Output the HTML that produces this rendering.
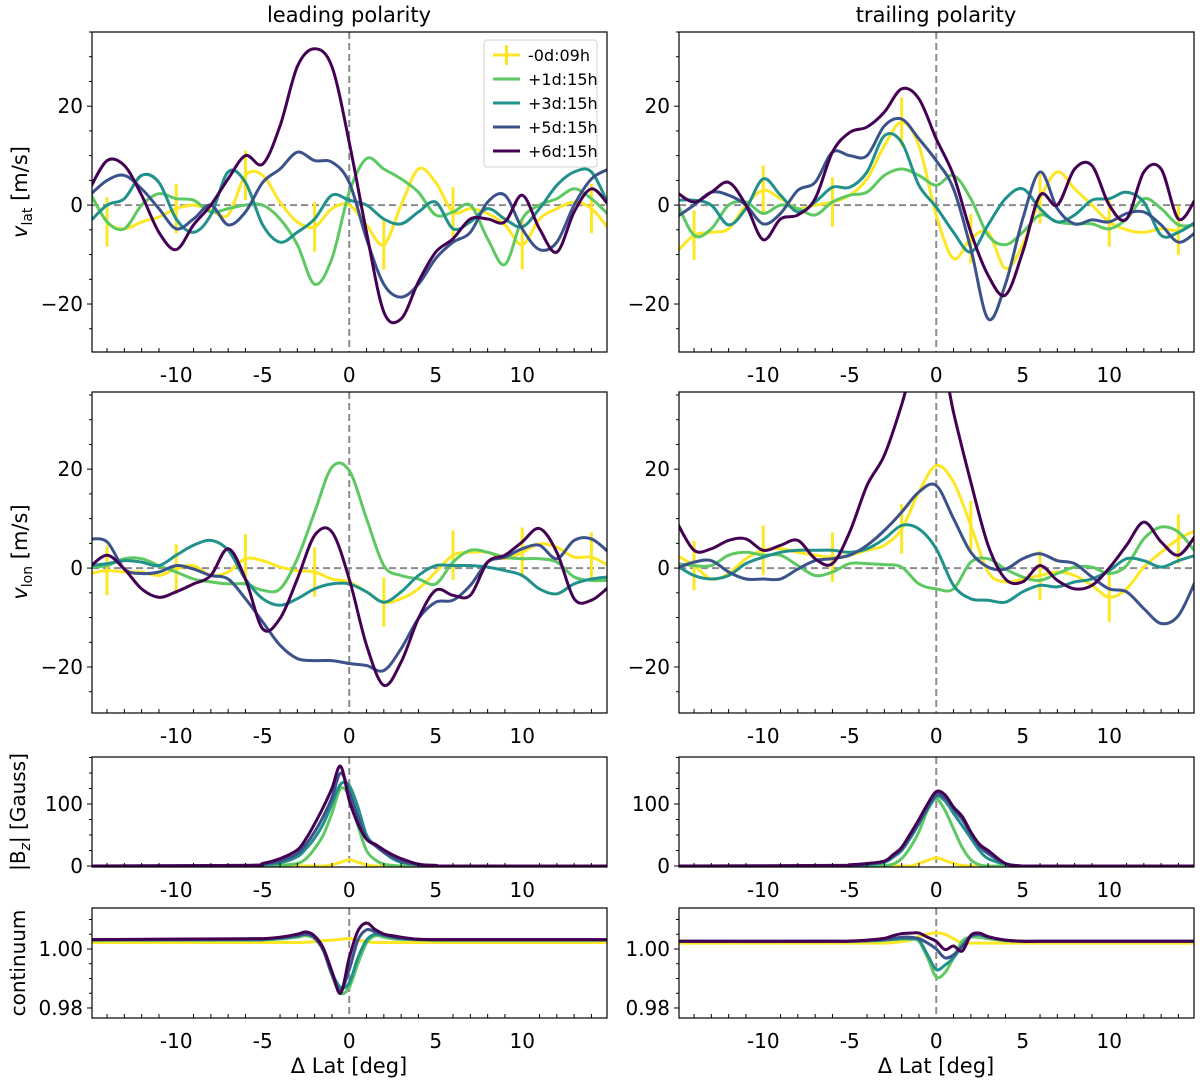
<!DOCTYPE html>
<html><head><meta charset="utf-8"><style>
html,body{margin:0;padding:0;background:#fff;}
svg{display:block;font-family:"DejaVu Sans","Liberation Sans",sans-serif;}
</style></head><body>
<svg id="fig" width="1200" height="1080" viewBox="0 0 1200 1080" xmlns="http://www.w3.org/2000/svg"></svg>
<script>
const degs = [-15,-14,-13,-12,-11,-10,-9,-8,-7,-6,-5,-4,-3,-2,-1,0,1,2,3,4,5,6,7,8,9,10,11,12,13,14,15];
const seriesNames = ["-0d:09h","+1d:15h","+3d:15h","+5d:15h","+6d:15h"];
const errDegs = [-14,-10,-6,-2,2,6,10,14];

const vlatL_y = [2.6,-3.4,-4.8,-3.4,-2.4,-0.7,0,-1,-2,6,6,0.6,-3.4,-4.4,-0.7,0,-4,-8,0,7.3,4.6,-1.4,-0.7,-1.7,-4,-8,-2.8,-0.7,0.6,-0.7,-4.8];
const vlatL_g = [2.6,-3.4,-4.8,0,2.3,1.3,1,-1.4,-0.7,0,0,-2.8,-8,-16,-10.8,2.6,9.4,7.3,5.3,2.6,-2,-1.4,0,-6.8,-12,-2.8,0,1.3,3.3,1.3,-2];
const vlatL_t = [-3.4,0,1.3,6,4.6,-2.8,-5.5,-2,6.7,4.6,-4,-7.5,-5.5,-2.8,2,1,0,-2.8,-3.8,-1.4,0.6,-4.8,-3.4,-0.7,-2.8,-4.4,-0.7,4,6.7,6.7,0];
const vlatL_b = [2,5,6,3.3,-0.7,-4.8,-2.8,0,-4,-1.4,4.6,7.3,10.7,9,8.7,4.6,-6.8,-16,-18.6,-16,-10.8,-7.5,-5.5,0.6,2,-4.8,-9,-7.5,0,5.3,7.3];
const vlatL_p = [3.3,9,8,2,-5.5,-9,-4,0,5.3,10,8.3,16,28,31.6,28,12.7,-5.5,-21.6,-23,-15.5,-9.5,-6.8,-2.8,-2.8,-3.4,2,-4.8,-9.5,-1.4,3.3,0];

const vlatR_y = [-9.5,-6.1,-5.5,-4.8,0,3,1.3,-0.7,0,0.6,2,5.3,12,16.8,12,-2,-10.8,-6.8,-5.5,-12.8,-8,1.3,6.7,3.3,0,-3.4,-5,-5.5,-4.8,-5.1,-3.8];
const vlatR_g = [0.6,-6.1,-4.8,0,0.6,-1.7,0,-0.7,-2,0.6,2,2.6,6,7.3,6,4,6,1.3,-6.1,-8,-5.5,-2,-3.4,-3.8,-3.8,-4.8,-2.8,1.3,-0.7,-4,-4];
const vlatR_t = [1,1,0,-4,-0.7,5.3,2,-1.4,0.6,3.6,3.6,6.7,14,12.7,4,-0.4,-5.5,-9.5,-4,1.3,3.3,-0.7,-3.4,-2,1,1.3,2.6,0.6,-6.1,-5.5,-3.4];
const vlatR_b = [-2.4,0,2.6,2,0,-3.8,-1.7,3,4.6,10.7,10,10,16,17.4,13.4,9,3.3,-8.8,-23,-16,-2.8,6.7,-0.7,-3.8,-3,-3.4,-1.7,-1.4,-4,-7.5,-5.5];
const vlatR_p = [2.6,0.6,2.6,4.6,0,-7,-2.8,-2,1.3,10.7,14.7,15.8,18.8,23.5,21.5,13.4,6,-5.5,-14.2,-18.2,-9.5,2,0,7.3,8,0,-2.8,6.7,7.3,-2.8,1.3];

const vlonL_y = [-1.1,-0.5,-0.8,-0.8,-1.5,-0.2,0.5,-1.5,-0.8,1.9,1.5,0.2,-0.5,-0.8,-2.2,-2.8,-4.8,-6.9,-6.2,-4.2,-0.8,2.6,3.2,3.2,1.9,3.2,4.9,4.2,2.2,2.2,0.5];
const vlonL_g = [0.2,0.5,1.9,1.9,0.5,-0.8,-2.2,-2.8,-3.2,-3.2,-4.5,-4.2,1.9,11.3,20.4,19.7,10,0.5,-1.5,-2.2,-3.2,1.2,3.6,3.2,2.2,1.9,1.9,1.2,-1.8,-2.5,-2.5];
const vlonL_t = [0.5,0.9,1.5,1.2,0.5,2.6,4.6,5.6,3.6,-2.2,-6.2,-7.5,-6.2,-4.2,-3.2,-3.2,-4.8,-6.9,-4.8,-1.5,0.5,0.5,0.5,0.2,-0.5,-1.5,-4.2,-5.2,-3.2,-2.2,-1.8];
const vlonL_b = [5.9,5.3,-0.2,-1.1,-0.8,0.5,-0.2,-1.5,-2.2,-6.2,-10.9,-15.6,-18.3,-18.7,-18.7,-19.3,-19.7,-20.7,-16.3,-10.2,-6.9,-6.5,-3.5,1.2,2.2,3.9,4.6,1.9,5.6,5.9,3.2];
const vlonL_p = [0.2,2.6,-0.2,-4.2,-5.9,-4.8,-3.2,-1.5,3.9,-2.2,-12.3,-10.2,-2.2,6.6,7.3,-2.2,-15.6,-23.7,-19,-10.2,-4.5,-5.5,-5.5,1.2,2.6,5.3,8,3.2,-6.2,-6.5,-3.8];

const vlonR_y = [2.6,0.5,-2.2,-1.1,1.9,3.6,3.9,3.2,2.6,2.2,2.6,3.6,4.6,7.9,15.4,20.7,17.4,8.6,-0.8,-2.8,-2.2,-1.5,-0.8,-1.5,-3.5,-5.9,-4.2,0.2,3.2,5.9,7.6];
const vlonR_g = [0.9,0.5,0.5,2.6,3.2,2.6,2.6,0.5,-1.5,-0.8,0.9,0.9,0.7,0.2,-3.2,-4.2,-4.2,1.2,1.9,-0.2,-1.8,-2.5,-1.1,0.2,0.2,-1.1,0.5,5.9,8.3,7.3,3.2];
const vlonR_t = [0.5,-1.5,-2.2,-1.5,0.9,2.2,3.2,3.6,3.6,3.6,3.2,3.9,5.9,8.6,7.9,3.9,-3.5,-6.2,-6.5,-6.9,-4.8,-3.5,-3.8,-2.8,-2.2,-0.5,1.9,1.5,0.2,1.5,2.6];
const vlonR_b = [0,1.2,1.5,-0.8,-2.2,-2.2,-2.2,-0.2,1.5,1.9,2.6,4.6,7.6,11.3,15.4,16.7,10,3.2,0.2,-0.2,1.9,2.9,1.5,0.9,-1.8,-4.2,-4.8,-8.2,-11.2,-9.6,-2.5];
const vlonR_p = [9.3,3.6,3.9,5.6,5.9,3.6,4.6,5.6,1.9,0.9,7.3,16.7,22.8,33,45,48,31.5,17.4,4.6,-2.2,-2.8,0.5,-2.5,-4.2,-3.5,0,4.6,9.3,5.3,2.6,6.6];

const degsB = [-15,-6,-5,-4,-3,-2.5,-2,-1.5,-1,-0.5,0,0.5,1,1.5,2,2.5,3,4,5,6,15];
const bzL_y = [0,0,0,0,0,0,0,0,2,6,10,6,2,0,0,0,0,0,0,0,0];
const bzL_g = [0,0,0,1,4,12,28,50,85,125,112,65,25,10,3,1,0,0,0,0,0];
const bzL_t = [0,0,2,5,15,28,45,68,100,132,130,95,50,33,22,12,6,2,0,0,0];
const bzL_b = [0,1,3,8,20,35,55,80,110,150,120,80,45,33,22,14,8,2,1,0,0];
const bzL_p = [0,1,4,12,26,44,68,95,125,161,106,68,43,35,26,18,12,3,1,0,0];
const bzR_y = [0,0,0,0,0,0,0,0,4,9,13,9,4,1,0,0,0,0,0,0,0];
const bzR_g = [0,0,0,0,1,3,12,30,55,90,108,90,60,30,10,2,0,0,0,0,0];
const bzR_t = [0,0,1,2,6,14,25,45,68,92,112,105,85,65,45,25,12,3,0,0,0];
const bzR_b = [0,0,1,3,7,16,27,48,70,95,115,110,92,75,52,32,20,4,0,0,0];
const bzR_p = [0,1,2,4,8,18,30,52,75,100,120,115,95,80,55,35,25,4,0,0,0];

const coL_y = [1.0022,1.0022,1.0022,1.0022,1.0022,1.0023,1.0025,1.0028,1.003,1.0033,1.0035,1.003,1.0025,1.0022,1.0022,1.0022,1.0022,1.0022,1.0022,1.0022,1.0022];
const coL_g = [1.003,1.003,1.0031,1.0034,1.004,1.0045,1.0035,0.9995,0.991,0.985,0.987,0.995,1.002,1.0045,1.004,1.0035,1.0033,1.0031,1.003,1.003,1.003];
const coL_t = [1.003,1.0031,1.0032,1.0036,1.0044,1.005,1.004,1.0,0.992,0.987,0.9885,0.997,1.003,1.005,1.0045,1.004,1.0035,1.0032,1.003,1.003,1.003];
const coL_b = [1.0032,1.0033,1.0034,1.0038,1.0045,1.005,1.0038,0.9995,0.9915,0.986,0.993,1.003,1.0065,1.0058,1.0048,1.004,1.0036,1.0033,1.0032,1.0032,1.0032];
const coL_p = [1.0032,1.0035,1.0035,1.004,1.005,1.0058,1.0044,1.0003,0.9924,0.985,0.997,1.0061,1.0088,1.0066,1.0051,1.0045,1.004,1.0033,1.0032,1.0032,1.0032];
const coR_y = [1.002,1.002,1.002,1.002,1.002,1.0022,1.0025,1.003,1.0042,1.005,1.0055,1.005,1.0035,1.002,1.002,1.002,1.002,1.002,1.002,1.002,1.002];
const coR_g = [1.0026,1.0026,1.0026,1.0027,1.003,1.0032,1.0034,1.0034,1.0026,0.997,0.9905,0.992,0.997,1.0026,1.004,1.004,1.0035,1.0028,1.0026,1.0026,1.0026];
const coR_t = [1.0026,1.0026,1.0026,1.0028,1.003,1.0033,1.0035,1.0035,1.003,0.998,0.993,0.9945,0.997,1.001,1.0042,1.0048,1.004,1.003,1.0026,1.0026,1.0026];
const coR_b = [1.0026,1.0026,1.0026,1.0028,1.0032,1.0036,1.004,1.004,1.0035,1.002,1.0,0.997,0.998,1.001,1.0045,1.005,1.004,1.003,1.0026,1.0026,1.0026];
const coR_p = [1.0026,1.0026,1.0027,1.003,1.0036,1.0045,1.0052,1.0054,1.0054,1.004,1.0026,0.9998,1.001,0.9993,1.0046,1.0054,1.0042,1.003,1.0026,1.0026,1.0026];

const xTicks = [-10,-5,0,5,10];
const xTickLabels = ["-10","-5","0","5","10"];

const COLORS = ["#fde725","#5ec962","#21918c","#3b528b","#440154"];
const NS = "http://www.w3.org/2000/svg";
const svg = document.getElementById("fig");
function mk(tag, attrs, parent){
  const e = document.createElementNS(NS, tag);
  for (const k in attrs) e.setAttribute(k, attrs[k]);
  (parent||svg).appendChild(e);
  return e;
}
function smoothPath(pts){
  let d = "M" + pts[0][0].toFixed(1) + "," + pts[0][1].toFixed(1);
  for (let i=0;i<pts.length-1;i++){
    const p0=pts[Math.max(0,i-1)], p1=pts[i], p2=pts[i+1], p3=pts[Math.min(pts.length-1,i+2)];
    const c1x=p1[0]+(p2[0]-p0[0])/6, c1y=p1[1]+(p2[1]-p0[1])/6;
    const c2x=p2[0]-(p3[0]-p1[0])/6, c2y=p2[1]-(p3[1]-p1[1])/6;
    d += " C"+c1x.toFixed(1)+","+c1y.toFixed(1)+" "+c2x.toFixed(1)+","+c2y.toFixed(1)+" "+p2[0].toFixed(1)+","+p2[1].toFixed(1);
  }
  return d;
}
let clipId = 0;
function panel(o){
  const {x0,x1,y0,y1,ymin,ymax,xs,series,yTicks,yTickLabels,yMinor,hzero,err,name} = o;
  const xmin=-14.87, xmax=14.9;
  const X = v => x0 + (v - xmin)/(xmax - xmin)*(x1 - x0);
  const Y = v => y1 - (v - ymin)/(ymax - ymin)*(y1 - y0);
  const g = mk("g", {});
  
  
  const cid = "clip"+(clipId++);
  const cp = mk("clipPath", {id:cid}, g);
  mk("rect", {x:x0,y:y0,width:x1-x0,height:y1-y0}, cp);
  const plot = mk("g", {"clip-path":"url(#"+cid+")"}, g);
  if (hzero){
    const hl = mk("line", {x1:x0,x2:x1,y1:Y(0),y2:Y(0),stroke:"#8c8c8c","stroke-width":2,"stroke-dasharray":"7,4"}, plot);
    
    
  }
  const vl = mk("line", {x1:X(0),x2:X(0),y1:y0,y2:y1,stroke:"#8c8c8c","stroke-width":2,"stroke-dasharray":"7,4"}, plot);
  
  
  series.forEach((vals, si) => {
    const pts = vals.map((v,i)=>[X(xs[i]), Y(v)]);
    const p = mk("path", {d:smoothPath(pts), fill:"none", stroke:COLORS[si], "stroke-width":3, "stroke-linejoin":"round"}, plot);
    
    
    if (si===0 && err){
      errDegs.forEach(ed => {
        const idx = xs.indexOf(ed);
        const v = vals[idx];
        const eb = mk("line", {x1:X(ed),x2:X(ed),y1:Y(v+err),y2:Y(v-err),stroke:COLORS[0],"stroke-width":3}, plot);
        
        
      });
    }
  });
  const fr = mk("rect", {x:x0,y:y0,width:x1-x0,height:y1-y0,fill:"none",stroke:"#000","stroke-width":1.2}, g);
  
  
  for (let d=-14; d<=14; d++){
    const major = xTicks.indexOf(d) >= 0;
    if (major) continue;
    mk("line", {x1:X(d),x2:X(d),y1:y1,y2:y1-4,stroke:"#000","stroke-width":1}, g);
  }
  xTicks.forEach((t,i)=>{
    const tx = mk("text", {x:X(t), y:y1+30, "text-anchor":"middle", "font-size":20, fill:"#000"}, g);
    tx.textContent = xTickLabels[i];
    
    
  });
  yMinor.forEach(t=>{ if (yTicks.indexOf(t)<0) mk("line",{x1:x0-3,x2:x0,y1:Y(t),y2:Y(t),stroke:"#000","stroke-width":1}, g); });
  yTicks.forEach((t,i)=>{
    mk("line",{x1:x0-5,x2:x0,y1:Y(t),y2:Y(t),stroke:"#000","stroke-width":1}, g);
    const ty = mk("text", {x:x0-9, y:Y(t)+7, "text-anchor":"end", "font-size":20, fill:"#000"}, g);
    ty.textContent = yTickLabels[i];
    
    
  });
  return g;
}
function range(a,b,s){const r=[];for(let v=a;v<=b+1e-9;v+=s)r.push(+v.toFixed(4));return r;}
const vTicks=[-20,0,20], vLabels=["\u221220","0","20"], vMinor=range(-25,35,5);
const L={x0:92,x1:607}, R={x0:679,x1:1194};
panel({...L,y0:32,y1:352,ymin:-29.7,ymax:35,xs:degs,series:[vlatL_y,vlatL_g,vlatL_t,vlatL_b,vlatL_p],yTicks:vTicks,yTickLabels:vLabels,yMinor:vMinor,hzero:true,err:5,name:"vlat-leading-panel"});
panel({...R,y0:32,y1:352,ymin:-29.7,ymax:35,xs:degs,series:[vlatR_y,vlatR_g,vlatR_t,vlatR_b,vlatR_p],yTicks:vTicks,yTickLabels:vLabels,yMinor:vMinor,hzero:true,err:5,name:"vlat-trailing-panel"});
panel({...L,y0:392,y1:713,ymin:-29.3,ymax:35.6,xs:degs,series:[vlonL_y,vlonL_g,vlonL_t,vlonL_b,vlonL_p],yTicks:vTicks,yTickLabels:vLabels,yMinor:vMinor,hzero:true,err:5,name:"vlon-leading-panel"});
panel({...R,y0:392,y1:713,ymin:-29.3,ymax:35.6,xs:degs,series:[vlonR_y,vlonR_g,vlonR_t,vlonR_b,vlonR_p],yTicks:vTicks,yTickLabels:vLabels,yMinor:vMinor,hzero:true,err:5,name:"vlon-trailing-panel"});
panel({...L,y0:757,y1:867,ymin:-1.6,ymax:175.8,xs:degsB,series:[bzL_y,bzL_g,bzL_t,bzL_b,bzL_p],yTicks:[0,100],yTickLabels:["0","100"],yMinor:range(25,175,25),hzero:false,err:0,name:"bz-leading-panel"});
panel({...R,y0:757,y1:867,ymin:-1.6,ymax:175.8,xs:degsB,series:[bzR_y,bzR_g,bzR_t,bzR_b,bzR_p],yTicks:[0,100],yTickLabels:["0","100"],yMinor:range(25,175,25),hzero:false,err:0,name:"bz-trailing-panel"});
panel({...L,y0:908,y1:1018,ymin:0.9766,ymax:1.0139,xs:degsB,series:[coL_y,coL_g,coL_t,coL_b,coL_p],yTicks:[0.98,1.0],yTickLabels:["0.98","1.00"],yMinor:range(0.985,1.01,0.005),hzero:false,err:0,name:"continuum-leading-panel"});
panel({...R,y0:908,y1:1018,ymin:0.9766,ymax:1.0139,xs:degsB,series:[coR_y,coR_g,coR_t,coR_b,coR_p],yTicks:[0.98,1.0],yTickLabels:["0.98","1.00"],yMinor:range(0.985,1.01,0.005),hzero:false,err:0,name:"continuum-trailing-panel"});

const lg = mk("g", {});


mk("rect",{x:484,y:40,width:113,height:127,rx:3,fill:"#fff","fill-opacity":0.85,stroke:"#d0d0d0","stroke-width":1}, lg);
seriesNames.forEach((n,i)=>{
  const y = 55 + i*24;
  const e = mk("g",{}, lg);
  
  
  mk("line",{x1:493,x2:520,y1:y,y2:y,stroke:COLORS[i],"stroke-width":3}, e);
  if (i===0) mk("line",{x1:506.5,x2:506.5,y1:y-10,y2:y+10,stroke:COLORS[0],"stroke-width":3}, e);
  const t = mk("text",{x:528,y:y+6,"font-size":16,fill:"#000"}, e);
  t.textContent = n;
});
</script>
<div style="position:absolute;left:0;top:0;width:1200px;height:1080px;pointer-events:none;">
<svg width="1200" height="1080" style="position:absolute;left:0;top:0" font-family="DejaVu Sans, Liberation Sans, sans-serif">
  <text x="349" y="22" text-anchor="middle" font-size="21">leading polarity</text>
  <text x="936" y="22" text-anchor="middle" font-size="21">trailing polarity</text>
  <text transform="translate(27,192) rotate(-90)" text-anchor="middle" font-size="21"><tspan font-style="italic">v</tspan><tspan font-size="14" dy="5">lat</tspan><tspan dy="-5"> [m/s]</tspan></text>
  <text transform="translate(27,552) rotate(-90)" text-anchor="middle" font-size="21"><tspan font-style="italic">v</tspan><tspan font-size="14" dy="5">lon</tspan><tspan dy="-5"> [m/s]</tspan></text>
  <text transform="translate(25,812) rotate(-90)" text-anchor="middle" font-size="20">|B<tspan font-style="italic" font-size="14" dy="5">z</tspan><tspan dy="-5">| [Gauss]</tspan></text>
  <text transform="translate(25,963) rotate(-90)" text-anchor="middle" font-size="20">continuum</text>
  <text x="349" y="1073" text-anchor="middle" font-size="21">Δ Lat [deg]</text>
  <text x="936" y="1073" text-anchor="middle" font-size="21">Δ Lat [deg]</text>
</svg>
</div>
</body></html>
